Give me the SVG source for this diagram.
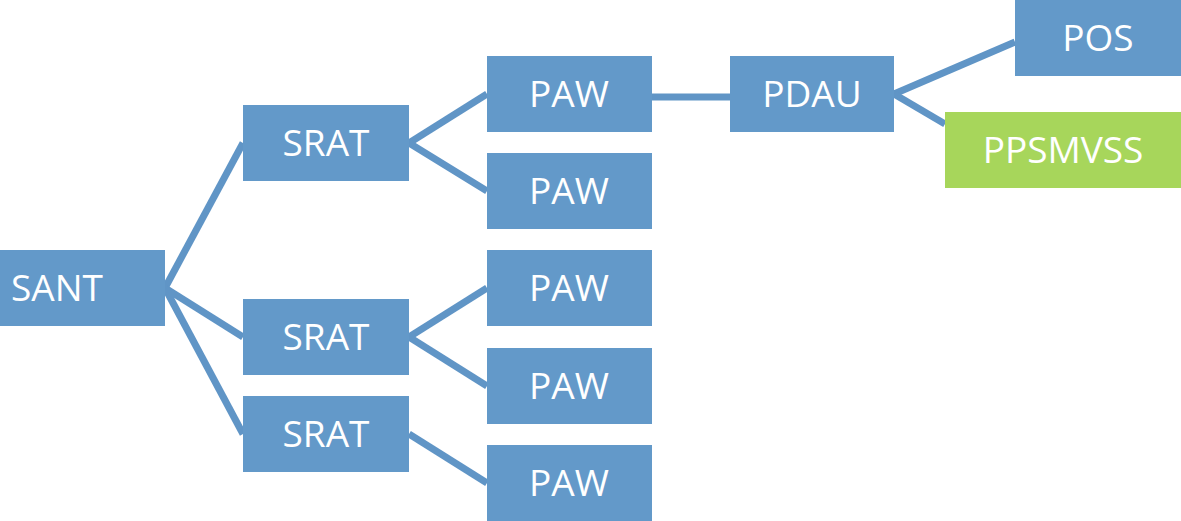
<svg xmlns="http://www.w3.org/2000/svg" width="1181" height="521" viewBox="0 0 1181 521">
<style>
.n{fill:#6399C9}
.g{fill:#A7D65B}
text{font-family:"Open Sans","Noto Sans","Liberation Sans",sans-serif;font-size:37px;fill:#fff;text-anchor:middle}
.c line{stroke:#6095C6;stroke-width:7}
</style>
<rect width="1181" height="521" fill="#fff"/>
<g class="c" id="connectors">
<line x1="165" y1="288" x2="243" y2="143"/>
<line x1="165" y1="288" x2="243" y2="337"/>
<line x1="165" y1="288" x2="243" y2="434"/>
<line x1="409" y1="143" x2="487" y2="94"/>
<line x1="409" y1="143" x2="487" y2="191"/>
<line x1="409" y1="337" x2="487" y2="288"/>
<line x1="409" y1="337" x2="487" y2="386"/>
<line x1="409" y1="434" x2="487" y2="483"/>
<line x1="652" y1="97" x2="730" y2="97"/>
<line x1="894" y1="94" x2="1015" y2="42"/>
<line x1="894" y1="94" x2="945" y2="124"/>
</g>
<g id="sant"><rect class="n" x="-50" y="250" width="215" height="76"/><text x="57" y="301">SANT</text></g>
<g id="srat1"><rect class="n" x="243" y="105" width="166" height="76"/><text x="326" y="156">SRAT</text></g>
<g id="srat2"><rect class="n" x="243" y="299" width="166" height="76"/><text x="326" y="350">SRAT</text></g>
<g id="srat3"><rect class="n" x="243" y="396" width="166" height="76"/><text x="326" y="447">SRAT</text></g>
<g id="paw1"><rect class="n" x="487" y="56" width="165" height="76"/><text x="569" y="107">PAW</text></g>
<g id="paw2"><rect class="n" x="487" y="153" width="165" height="76"/><text x="569" y="204">PAW</text></g>
<g id="paw3"><rect class="n" x="487" y="250" width="165" height="76"/><text x="569" y="301">PAW</text></g>
<g id="paw4"><rect class="n" x="487" y="348" width="165" height="76"/><text x="569" y="399">PAW</text></g>
<g id="paw5"><rect class="n" x="487" y="445" width="165" height="76"/><text x="569" y="496">PAW</text></g>
<g id="pdau"><rect class="n" x="730" y="56" width="164" height="76"/><text x="812" y="107">PDAU</text></g>
<g id="pos"><rect class="n" x="1015" y="0" width="166" height="76"/><text x="1098" y="51">POS</text></g>
<g id="ppsmvss"><rect class="g" x="945" y="112" width="236" height="76"/><text x="1063" y="163">PPSMVSS</text></g>
</svg>
